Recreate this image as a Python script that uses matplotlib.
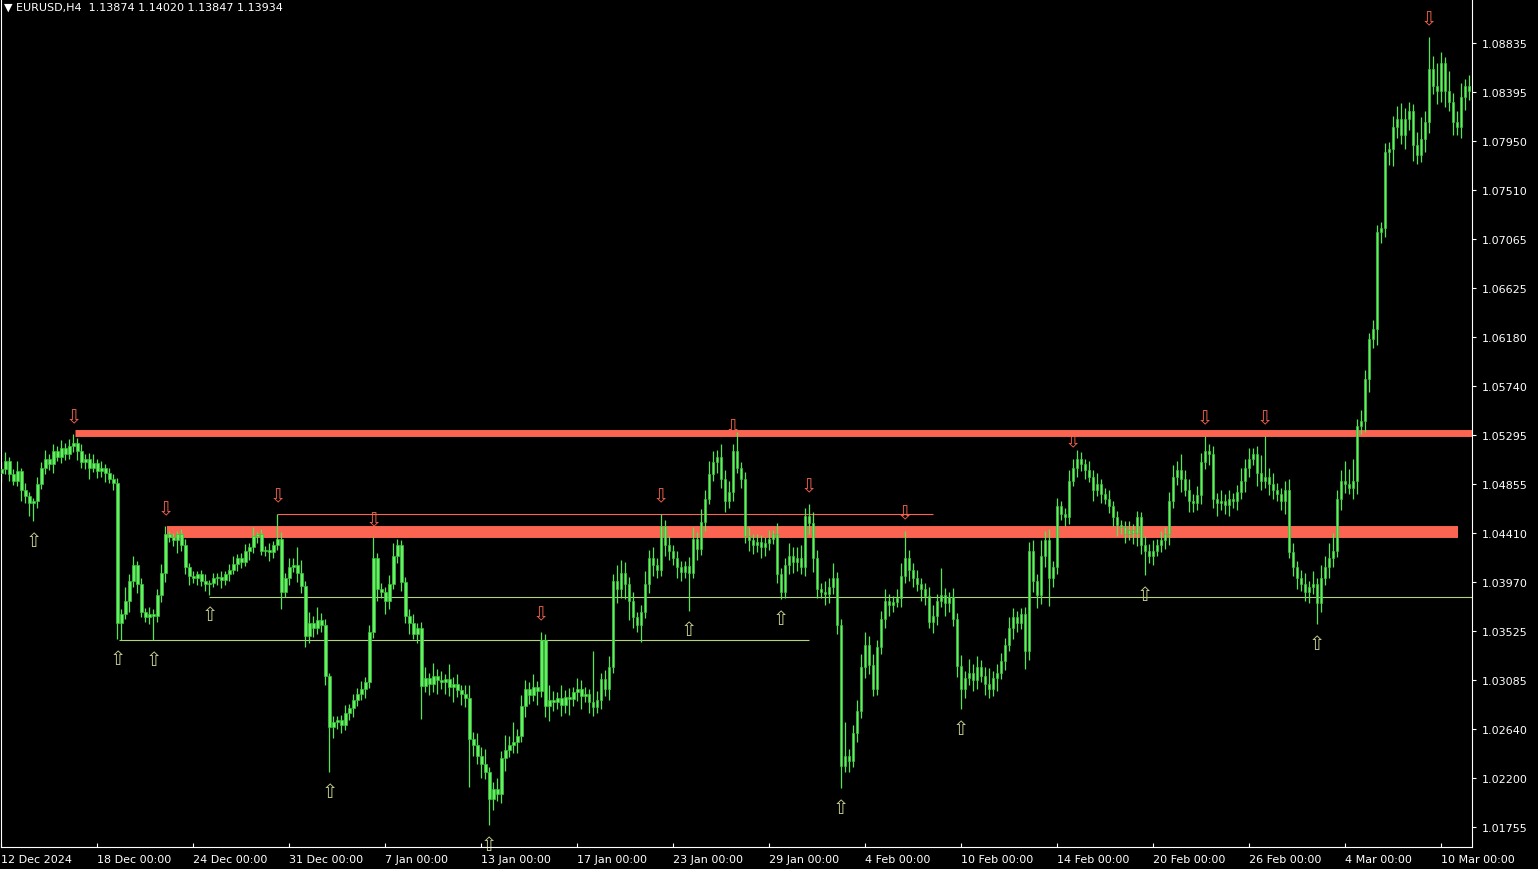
import matplotlib
matplotlib.use("Agg")
import matplotlib.pyplot as plt
import numpy as np

# EURUSD H4, prices stored as pips above 1.0000 (so 499 -> 1.0499)
first_open = 495
closes = [
    499, 506, 494, 488, 497, 480, 474, 468, 470, 485,
    500, 508, 503, 515, 510, 518, 512, 520, 522, 515,
    505, 508, 500, 504, 497, 500, 495, 490, 486, 360,
    368, 380, 398, 412, 395, 370, 365, 368, 366, 385,
    405, 440, 437, 435, 440, 430, 410, 402, 400, 404,
    398, 395, 396, 400, 401, 399, 404, 408, 413, 418,
    415, 425, 428, 438, 440, 425, 426, 424, 430, 436,
    388, 400, 410, 412, 405, 393, 348, 360, 355, 362,
    358, 312, 266, 270, 272, 268, 278, 283, 290, 296,
    300, 306, 352, 418, 390, 388, 380, 395, 420, 430,
    397, 366, 360, 350, 355, 303, 310, 305, 312, 308,
    306, 309, 302, 305, 299, 296, 292, 255, 250, 240,
    232, 225, 201, 210, 205, 238, 245, 250, 252, 258,
    285, 300, 295, 302, 298, 344, 285, 290, 288, 292,
    286, 293, 291, 297, 300, 294, 296, 288, 284, 290,
    309, 300, 320, 398, 390, 405, 395, 380, 365, 358,
    370, 395, 418, 412, 408, 447, 430, 425, 418, 410,
    406, 411, 405, 436, 427, 451, 472, 494, 505, 510,
    490, 470, 478, 515, 500, 490, 438, 435, 430, 433,
    428, 432, 436, 440, 404, 388, 412, 420, 415, 418,
    410, 456, 450, 418, 390, 388, 386, 392, 400, 358,
    231, 240, 235, 260, 280, 320, 340, 322, 300, 338,
    363, 380, 376, 379, 382, 402, 418, 408, 400, 395,
    390, 384, 361, 366, 380, 385, 378, 383, 363, 321,
    300, 310, 315, 308, 320, 312, 305, 300, 310, 315,
    325, 340, 355, 365, 360, 368, 334, 425, 398, 385,
    420, 435, 400, 410, 465, 458, 455, 488, 500, 508,
    503, 498, 492, 480, 485, 476, 472, 465, 455, 448,
    446, 440, 444, 441, 455, 430, 425, 420, 425, 430,
    435, 440, 470, 492, 498, 490, 480, 470, 468, 475,
    505, 515, 512, 472, 468, 470, 466, 472, 470, 478,
    488, 500, 508, 512, 495, 488, 492, 485, 480, 476,
    470, 480, 424, 410, 400, 395, 388, 392, 395, 378,
    400, 410, 418, 425, 472, 488, 485, 482, 488, 538,
    542, 580, 616, 625, 713, 716, 785, 788, 808, 815,
    800, 815, 822, 791, 782, 797, 812, 860, 845, 840,
    865, 840, 830, 812, 808, 835, 845, 840,
]
# upper / lower shadow length in pips
upper_wick = [
    6, 8, 4, 5, 9, 3, 6, 4, 3, 7,
    5, 8, 4, 6, 5, 7, 4, 6, 8, 5,
    6, 4, 5, 8, 4, 6, 3, 5, 4, 5,
    4, 12, 6, 8, 4, 5, 3, 6, 4, 5,
    8, 7, 3, 4, 3, 5, 6, 4, 5, 3,
    4, 6, 3, 5, 4, 6, 3, 5, 7, 4,
    5, 6, 4, 8, 2, 5, 3, 6, 4, 22,
    6, 5, 8, 6, 16, 12, 5, 10, 6, 12,
    7, 5, 3, 6, 4, 5, 8, 4, 6, 5,
    7, 5, 6, 19, 5, 6, 4, 8, 12, 6,
    5, 4, 6, 8, 5, 6, 10, 5, 12, 6,
    8, 5, 14, 6, 9, 5, 8, 12, 6, 10,
    8, 14, 5, 6, 10, 6, 14, 8, 18, 6,
    10, 8, 6, 12, 5, 8, 6, 14, 8, 5,
    12, 6, 8, 5, 10, 8, 6, 4, 46, 8,
    6, 8, 10, 6, 14, 12, 10, 6, 8, 5,
    6, 12, 8, 10, 6, 11, 6, 8, 5, 7,
    6, 5, 8, 10, 6, 12, 8, 12, 10, 6,
    11, 8, 10, 6, 17, 5, 6, 8, 5, 7,
    6, 5, 8, 4, 10, 5, 6, 12, 8, 10,
    12, 8, 11, 10, 8, 6, 10, 8, 14, 6,
    5, 30, 6, 8, 10, 12, 12, 8, 10, 6,
    8, 10, 6, 5, 8, 12, 25, 8, 6, 8,
    5, 6, 8, 10, 6, 24, 6, 5, 8, 6,
    10, 6, 12, 8, 10, 6, 8, 14, 6, 8,
    8, 6, 10, 8, 6, 5, 6, 8, 10, 6,
    15, 8, 10, 6, 8, 5, 6, 10, 8, 8,
    6, 5, 8, 6, 10, 5, 6, 8, 5, 6,
    5, 6, 8, 5, 6, 5, 8, 6, 10, 6,
    8, 6, 8, 10, 8, 14, 8, 10, 6, 8,
    8, 14, 6, 8, 5, 10, 6, 8, 5, 6,
    12, 8, 10, 6, 8, 16, 37, 8, 10, 6,
    6, 8, 10, 8, 6, 8, 10, 6, 12, 5,
    12, 10, 14, 16, 8, 10, 18, 14, 20, 6,
    10, 8, 6, 8, 6, 6, 8, 6, 10, 12,
    14, 10, 8, 6, 12, 20, 10, 29, 12, 20,
    10, 6, 18, 8, 10, 12, 6, 10,
]
lower_wick = [
    8, 5, 6, 4, 5, 10, 6, 12, 16, 6,
    4, 6, 5, 8, 4, 6, 5, 4, 6, 8,
    5, 6, 10, 4, 6, 5, 8, 4, 6, 15,
    16, 5, 10, 6, 8, 5, 4, 6, 22, 5,
    6, 8, 4, 6, 12, 5, 6, 8, 4, 6,
    5, 6, 10, 4, 6, 8, 5, 6, 4, 6,
    6, 4, 8, 5, 6, 4, 5, 8, 6, 4,
    16, 5, 6, 4, 8, 6, 10, 6, 8, 5,
    6, 8, 41, 10, 6, 8, 5, 6, 8, 5,
    6, 8, 5, 6, 10, 6, 12, 8, 5, 6,
    8, 6, 10, 5, 8, 30, 6, 10, 8, 12,
    6, 10, 8, 14, 6, 10, 8, 43, 10, 8,
    12, 6, 24, 10, 6, 8, 12, 6, 8, 10,
    6, 10, 8, 6, 12, 5, 10, 14, 8, 6,
    10, 8, 14, 6, 8, 12, 6, 10, 8, 6,
    8, 6, 10, 5, 12, 8, 14, 18, 10, 6,
    15, 6, 8, 10, 8, 6, 10, 8, 6, 10,
    8, 6, 34, 5, 10, 6, 8, 5, 6, 10,
    8, 10, 6, 8, 5, 8, 6, 10, 8, 6,
    10, 8, 6, 5, 8, 7, 6, 8, 10, 8,
    6, 8, 10, 12, 8, 6, 10, 8, 6, 8,
    20, 6, 10, 5, 8, 6, 10, 8, 6, 5,
    6, 8, 10, 6, 5, 8, 6, 10, 8, 6,
    10, 8, 6, 10, 8, 6, 12, 8, 6, 10,
    18, 8, 6, 10, 8, 6, 10, 8, 6, 12,
    6, 8, 6, 10, 8, 6, 16, 8, 10, 12,
    8, 10, 25, 8, 6, 5, 8, 6, 5, 8,
    6, 8, 5, 10, 6, 8, 5, 6, 8, 10,
    6, 8, 5, 10, 12, 8, 22, 6, 8, 5,
    6, 8, 10, 6, 8, 12, 6, 10, 8, 6,
    8, 6, 10, 8, 12, 6, 8, 10, 6, 8,
    6, 10, 8, 6, 12, 8, 6, 10, 8, 6,
    8, 12, 6, 8, 10, 6, 8, 10, 6, 19,
    8, 6, 10, 8, 6, 10, 8, 6, 10, 12,
    8, 10, 12, 8, 14, 10, 8, 12, 16, 10,
    8, 12, 10, 14, 8, 6, 12, 10, 8, 12,
    10, 14, 8, 12, 8, 10, 12, 8,
]

fractal_up_bars = [18, 41, 69, 93, 135, 165, 183, 202, 226, 268, 301, 316, 357]
fractal_down_bars = [8, 29, 38, 52, 82, 122, 172, 195, 210, 240, 286, 329]

# drawn levels: price, first bar, last bar
zone_prices = [1.0531, 1.0442]
zone_start = [18.5, 41.5]
zone_end = [368, 364.2]
zone_widths = [5.0, 8.6]
res_line = (1.0458, 69, 233)
sup_lines = [(1.0383, 52, 368), (1.03445, 29.5, 202)]

tick_prices = [1.08835, 1.08395, 1.07950, 1.07510, 1.07065, 1.06625, 1.06180,
               1.05740, 1.05295, 1.04855, 1.04410, 1.03970, 1.03525, 1.03085,
               1.02640, 1.02200, 1.01755]
date_labels = ["12 Dec 2024", "18 Dec 00:00", "24 Dec 00:00", "31 Dec 00:00",
               "7 Jan 00:00", "13 Jan 00:00", "17 Jan 00:00", "23 Jan 00:00",
               "29 Jan 00:00", "4 Feb 00:00", "10 Feb 00:00", "14 Feb 00:00",
               "20 Feb 00:00", "26 Feb 00:00", "4 Mar 00:00", "10 Mar 00:00"]
title = "EURUSD,H4  1.13874 1.14020 1.13847 1.13934"

c = np.array(closes) / 10000 + 1
o = np.concatenate([[first_open / 10000 + 1], c[:-1]])
hi = np.maximum(o, c) + np.array(upper_wick) / 10000
lo = np.minimum(o, c) - np.array(lower_wick) / 10000
x = np.arange(len(c))

W, H = 1538, 870
fig = plt.figure(figsize=(W / 100, H / 100), dpi=100, facecolor="black")
ax = fig.add_axes([0.5 / W, 22 / H, 1471.5 / W, 848 / H], facecolor="black")

green = "#55e655"
zone_col = "#fa6450"
sup_col = "#b4d27a"

for p, s, e, w in zip(zone_prices, zone_start, zone_end, zone_widths):
    ax.hlines(p, s, e, color=zone_col, lw=w, zorder=1)
ax.hlines(res_line[0], res_line[1], res_line[2], color=zone_col, lw=0.8, zorder=1)
for p, s, e in sup_lines:
    ax.hlines(p, s, e, color=sup_col, lw=0.8, zorder=1)

ax.vlines(x, lo, hi, color=green, lw=0.9, zorder=2)
body = np.maximum(np.abs(c - o), 0.00004)
ax.bar(x, body, bottom=np.minimum(o, c), width=0.6, color="#6aec6a",
       edgecolor="#34c834", linewidth=0.5, zorder=3)

for i in fractal_up_bars:
    ax.annotate("\u21e9", xy=(i, hi[i]), xytext=(0, 13), textcoords="offset points",
                ha="center", va="center", color="#e8604a", fontsize=14, zorder=0.5)
for i in fractal_down_bars:
    ax.annotate("\u21e7", xy=(i, lo[i]), xytext=(0, -14), textcoords="offset points",
                ha="center", va="center", color="#c2cc8e", fontsize=14, zorder=0.5)

ax.set_xlim(-0.25, 367.75)
ax.set_ylim(1.015744, 1.092323)

ax.yaxis.tick_right()
ax.set_yticks(tick_prices)
ax.set_yticklabels(["%.5f" % p for p in tick_prices])
ax.set_xticks(np.arange(len(date_labels)) * 24)
ax.set_xticklabels(date_labels, ha="left")
ax.tick_params(colors="white", labelsize=8, length=3, width=0.8)
ax.tick_params(axis="x", direction="in", pad=5)
ax.tick_params(axis="y", pad=4)
for side in ["left", "right", "bottom"]:
    ax.spines[side].set_color("white")
    ax.spines[side].set_linewidth(0.8)
ax.spines["top"].set_visible(False)

fig.text(4 / W, 1 - 8 / H, "\u25bc " + title, color="white", fontsize=8,
         va="center", ha="left")

fig.savefig("out.png", dpi=100, facecolor="black")
